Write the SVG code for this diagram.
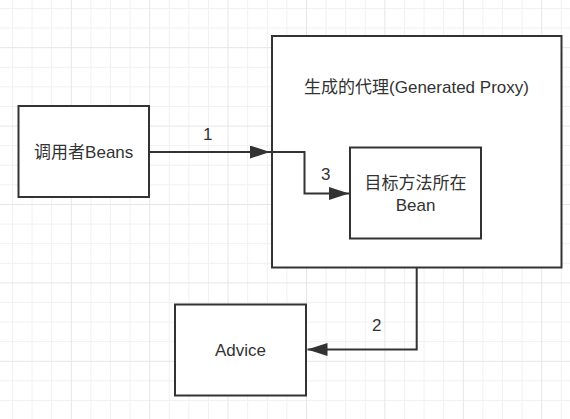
<svg xmlns="http://www.w3.org/2000/svg" width="570" height="419" viewBox="0 0 570 419">
<style>
.minor{stroke:#f1f1f1;stroke-width:1;fill:none}
.major{stroke:#e6e6e6;stroke-width:1;fill:none}
.box{fill:#ffffff;stroke:#333333;stroke-width:2}
.edge{fill:none;stroke:#333333;stroke-width:2}
text{font-family:"Liberation Sans","Noto Sans CJK SC",sans-serif;font-size:17px;fill:#333333;text-anchor:middle;dominant-baseline:central}
</style>
<defs>
<marker id="arrow" markerUnits="userSpaceOnUse" markerWidth="20" markerHeight="13" refX="20" refY="6.5" orient="auto">
<path d="M0,0 L20,6.5 L0,13 z" fill="#333333"/>
</marker>
</defs>
<rect width="570" height="419" fill="#ffffff"/>
<g id="grid">
<path class="minor" d="M12.5,0V419M32.1,0V419M51.7,0V419M90.9,0V419M110.5,0V419M130.1,0V419M169.3,0V419M188.9,0V419M208.5,0V419M247.7,0V419M267.3,0V419M286.9,0V419M326.1,0V419M345.7,0V419M365.3,0V419M404.5,0V419M424.1,0V419M443.7,0V419M482.9,0V419M502.5,0V419M522.1,0V419M561.3,0V419M0,8.5H570M0,28.1H570M0,67.3H570M0,86.9H570M0,106.5H570M0,145.7H570M0,165.3H570M0,184.9H570M0,224.1H570M0,243.7H570M0,263.3H570M0,302.5H570M0,322.1H570M0,341.7H570M0,380.9H570M0,400.5H570"/>
<path class="major" d="M71.3,0V419M149.7,0V419M228.1,0V419M306.5,0V419M384.9,0V419M463.3,0V419M541.7,0V419M0,47.7H570M0,126.1H570M0,204.5H570M0,282.9H570M0,361.3H570"/>
</g>
<g id="proxy">
<rect class="box" x="272" y="36" width="289.5" height="231.5"/>
<text x="416.5" y="87">生成的代理(Generated Proxy)</text>
</g>
<g id="caller">
<rect class="box" x="18.5" y="106" width="130.5" height="91"/>
<text x="83.7" y="152">调用者Beans</text>
</g>
<g id="target">
<rect class="box" x="350" y="147.5" width="131" height="91"/>
<text x="415.5" y="183">目标方法所在</text>
<text x="415.5" y="205">Bean</text>
</g>
<g id="advice">
<rect class="box" x="175" y="304.5" width="131" height="91"/>
<text x="240.5" y="350.5">Advice</text>
</g>
<g id="connectors">
<path class="edge" d="M149,152 H270" marker-end="url(#arrow)"/>
<text x="207.7" y="134.5">1</text>
<path class="edge" d="M270,152 H304.5 V193.5 H349" marker-end="url(#arrow)"/>
<text x="325.7" y="174.5">3</text>
<path class="edge" d="M416.7,267.5 V349.5 H307.5" marker-end="url(#arrow)"/>
<text x="376.7" y="325">2</text>
</g>
</svg>
